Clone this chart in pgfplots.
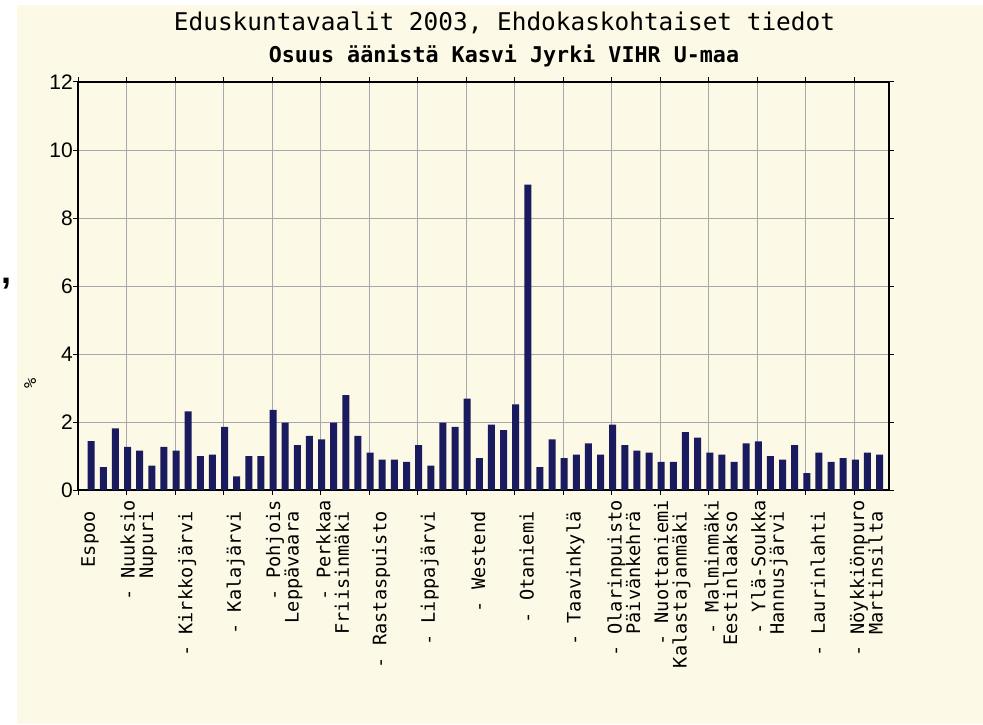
\documentclass[border=0pt]{standalone}
\usepackage{pgfplots}
\pgfplotsset{compat=1.18}
\usepackage{fontspec}
\setmainfont{Liberation Sans}
\newfontfamily\monofont{DejaVu Sans Mono}
\definecolor{bgc}{RGB}{252,250,230}
\definecolor{barc}{RGB}{26,26,94}
\definecolor{gridc}{RGB}{168,168,172}
\newcommand\p{\phantom{x}}
\begin{document}
\begin{tikzpicture}
\useasboundingbox (0pt,0pt) rectangle (983pt,724pt);
\fill[white] (0pt,0pt) rectangle (983pt,724pt);
\fill[bgc] (17pt,0pt) rectangle (983pt,719pt);
\node[font=\monofont\fontsize{24.4}{28}\selectfont] at (504.5pt,701pt) {Eduskuntavaalit 2003, Ehdokaskohtaiset tiedot};
\node[font=\monofont\bfseries\fontsize{21.7}{26}\selectfont] at (504pt,668pt) {Osuus äänistä Kasvi Jyrki VIHR U-maa};
\node[font=\bfseries\fontsize{36}{40}\selectfont] at (7pt,440pt) {,};
\begin{axis}[
  at={(78pt,234pt)}, anchor=south west, scale only axis,
  width=811pt, height=408pt,
  xmin=-1, xmax=65.86, ymin=0, ymax=12,
  axis line style={black, line width=1.5pt},
  ytick={0,2,...,12},
  ymajorgrids,
  grid style={gridc, line width=1pt},
  major tick length=5pt, tick align=outside,
  tick style={black, line width=1pt},
  /pgf/number format/assume math mode=true,
  yticklabel style={font=\fontsize{21}{21}\selectfont, inner sep=0pt, xshift=0pt},
  xtick={-1,3,...,63},
  xticklabels={},
  xmajorgrids,
  extra x ticks={0,4,...,64},
  extra x tick style={grid=none, major tick length=0pt},
  extra x tick labels={Espoo\p, {- Nuuksio\\Nupuri\p}, - Kirkkojärvi\p, - Kalajärvi\p,
    {- Pohjois\\Leppävaara\p}, {- Perkkaa\\Friisinmäki\p}, - Rastaspuisto\p, - Lippajärvi\p,
    - Westend\p, - Otaniemi\p, - Taavinkylä\p, {- Olarinpuisto\\Päivänkehrä\p},
    {- Nuottaniemi\\Kalastajanmäki\p}, {- Malminmäki\\Eestinlaakso\p}, {- Ylä-Soukka\\Hannusjärvi\p},
    - Laurinlahti\p, {- Nöykkiönpuro\\Martinsilta\p}},
  xticklabel style={font=\monofont\fontsize{18.6}{18.5}\selectfont, rotate=90, anchor=east, align=right, inner sep=0pt},
  xticklabel shift=10pt,
  ylabel={\%},
  ylabel style={at={(axis description cs:-0.059,0.262)}, anchor=center, font=\monofont\fontsize{17}{17}\selectfont},
]
\addplot[ybar, bar width=7pt, bar shift=1pt, fill=barc, draw=none] coordinates {
(0,1.44) (1,0.67) (2,1.81) (3,1.27) (4,1.16) (5,0.72) (6,1.27) (7,1.16) (8,2.31) (9,1.00)
(10,1.04) (11,1.86) (12,0.40) (13,1.00) (14,1.00) (15,2.36) (16,1.98) (17,1.32) (18,1.59) (19,1.49)
(20,1.98) (21,2.79) (22,1.59) (23,1.10) (24,0.89) (25,0.89) (26,0.83) (27,1.32) (28,0.72) (29,1.98)
(30,1.86) (31,2.69) (32,0.94) (33,1.92) (34,1.76) (35,2.52) (36,8.98) (37,0.67) (38,1.49) (39,0.94)
(40,1.04) (41,1.37) (42,1.04) (43,1.92) (44,1.32) (45,1.16) (46,1.10) (47,0.83) (48,0.83) (49,1.70)
(50,1.54) (51,1.10) (52,1.04) (53,0.83) (54,1.37) (55,1.43) (56,1.00) (57,0.89) (58,1.32) (59,0.50)
(60,1.10) (61,0.83) (62,0.94) (63,0.89) (64,1.10) (65,1.04)
};
\end{axis}
\end{tikzpicture}
\end{document}
